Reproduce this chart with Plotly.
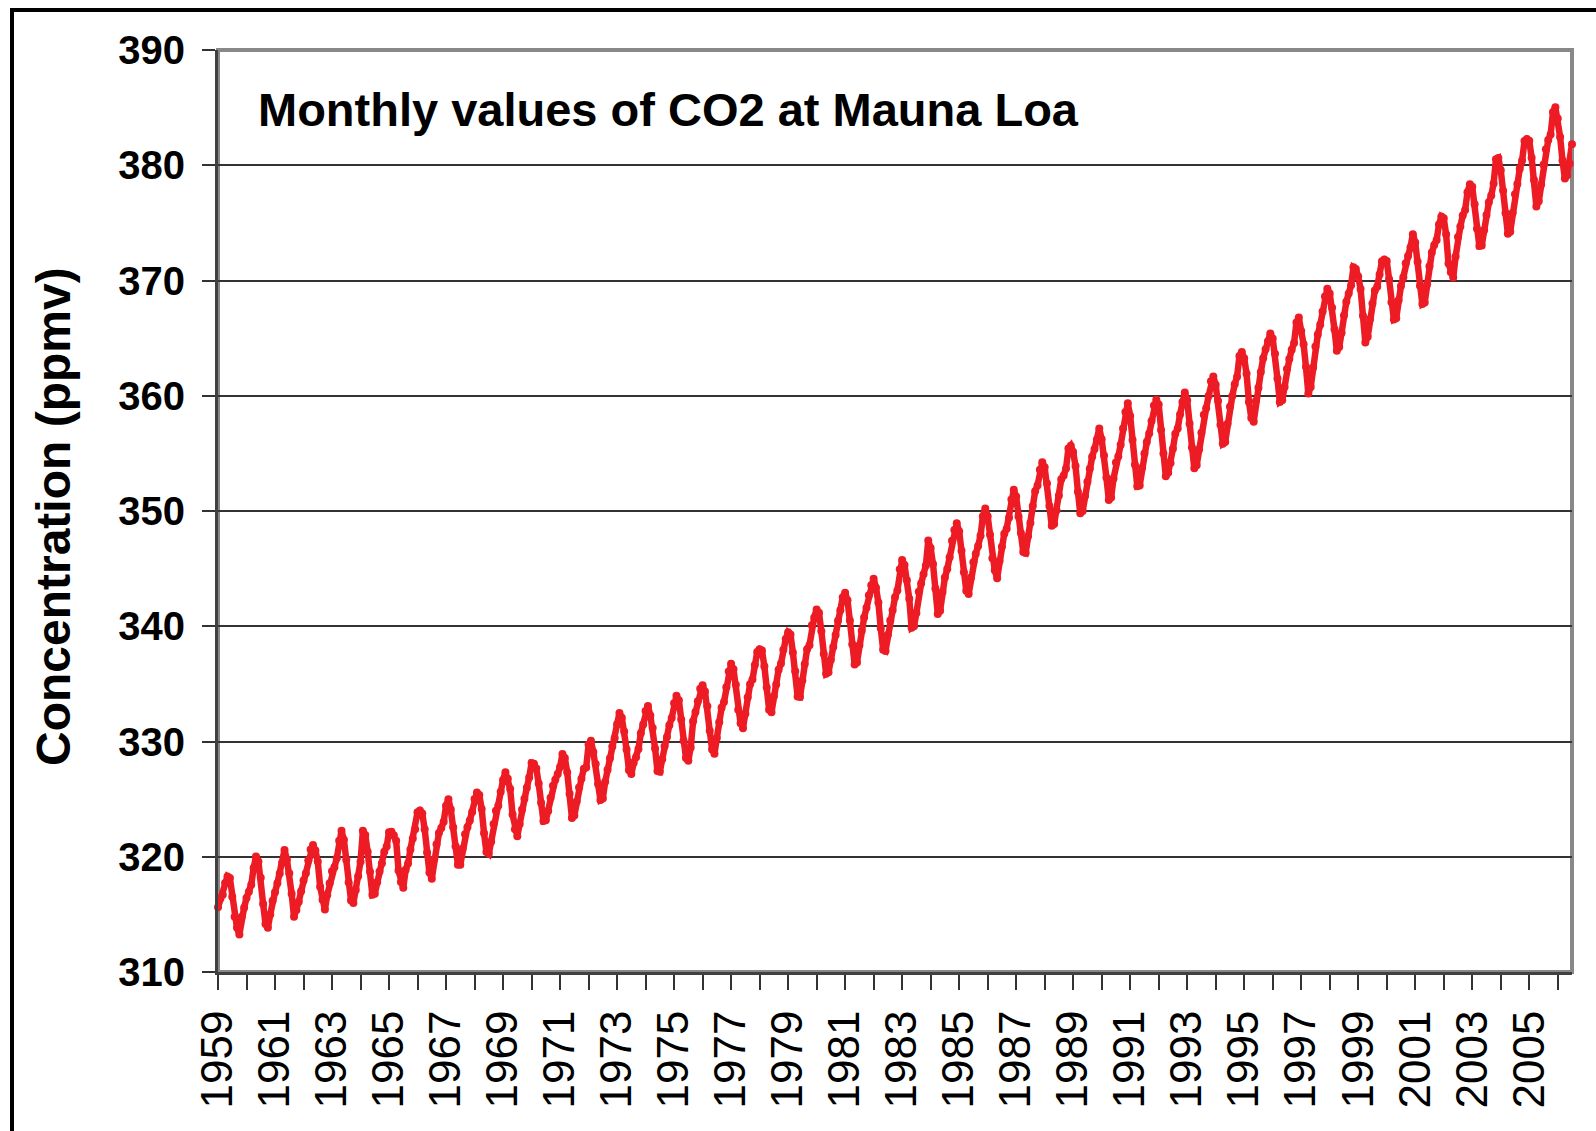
import plotly.graph_objects as go

# Monthly CO2 (ppmv) at Mauna Loa, Jan 1959 - Dec 2006 (missing months omitted)
co2_1959 = [315.62, 316.38, 316.71, 317.72, 318.29, 318.15, 316.54, 314.80, 313.84, 313.26, 314.80, 315.58]
co2_1960 = [316.43, 316.97, 317.58, 319.02, 320.03, 319.59, 318.18, 315.91, 314.16, 313.83, 315.00, 316.19]
co2_1961 = [316.93, 317.70, 318.54, 319.48, 320.58, 319.77, 318.57, 316.79, 314.80, 315.38, 316.10, 317.01]
co2_1962 = [317.94, 318.56, 319.68, 320.63, 321.01, 320.55, 319.58, 317.40, 316.26, 315.42, 316.69, 317.69]
co2_1963 = [318.74, 319.08, 319.86, 321.39, 322.25, 321.47, 319.74, 317.77, 316.21, 315.99, 317.12, 318.31]
co2_1964 = [319.57, 322.25, 321.89, 320.44, 318.70, 316.70, 316.79, 317.79, 318.71]
co2_1965 = [319.44, 320.44, 320.89, 322.13, 322.16, 321.87, 321.39, 318.80, 317.81, 317.30, 318.87, 319.42]
co2_1966 = [320.62, 321.59, 322.39, 323.87, 324.01, 323.75, 322.39, 320.37, 318.64, 318.10, 319.79, 321.08]
co2_1967 = [322.07, 322.50, 323.04, 324.42, 325.00, 324.09, 322.55, 320.92, 319.31, 319.31, 320.72, 321.96]
co2_1968 = [322.57, 323.15, 323.89, 325.02, 325.57, 325.36, 324.14, 322.03, 320.41, 320.25, 321.31, 322.84]
co2_1969 = [324.00, 324.42, 325.64, 326.66, 327.34, 326.76, 325.88, 323.67, 322.38, 321.78, 322.85, 324.11]
co2_1970 = [325.03, 325.99, 326.87, 328.13, 328.07, 327.66, 326.35, 324.69, 323.10, 323.16, 323.98, 325.13]
co2_1971 = [326.17, 326.68, 327.18, 327.78, 328.92, 328.57, 327.34, 325.46, 323.36, 323.57, 324.80, 326.01]
co2_1972 = [326.77, 327.63, 327.75, 329.72, 330.07, 329.09, 328.05, 326.32, 324.93, 325.06, 326.50, 327.55]
co2_1973 = [328.54, 329.56, 330.30, 331.50, 332.48, 332.07, 330.87, 329.31, 327.51, 327.18, 328.16, 328.64]
co2_1974 = [329.35, 330.71, 331.48, 332.65, 333.09, 332.25, 331.18, 329.40, 327.44, 327.37, 328.46, 329.58]
co2_1975 = [330.40, 331.41, 332.04, 333.31, 333.96, 333.59, 331.91, 330.06, 328.56, 328.34, 329.49]
co2_1976 = [331.75, 332.56, 333.50, 334.58, 334.87, 334.34, 333.05, 330.94, 329.30, 328.94, 330.31, 331.68]
co2_1977 = [332.93, 333.42, 334.70, 336.07, 336.74, 336.27, 334.93, 332.75, 331.58, 331.16, 332.40, 333.85]
co2_1978 = [334.97, 335.39, 336.64, 337.76, 338.01, 337.89, 336.54, 334.68, 332.76, 332.54, 333.92, 334.95]
co2_1979 = [336.23, 336.76, 337.96, 338.89, 339.47, 339.29, 337.73, 336.09, 333.91, 333.86, 335.29, 336.73]
co2_1980 = [338.01, 338.36, 340.08, 340.77, 341.46, 341.17, 339.56, 337.60, 335.88, 336.01, 337.10, 338.21]
co2_1981 = [339.23, 340.47, 341.38, 342.51, 342.91, 342.25, 340.49, 338.43, 336.69, 336.85, 338.36, 339.61]
co2_1982 = [340.75, 341.61, 342.70, 343.56, 344.13, 343.35, 342.06, 339.82, 337.97, 337.86, 339.26, 340.49]
co2_1983 = [341.38, 342.52, 343.10, 344.94, 345.75, 345.32, 343.99, 342.39, 339.86, 339.99, 341.16, 342.99]
co2_1984 = [343.70, 344.51, 345.28, 347.43, 346.79, 345.40, 343.28, 341.07, 341.35, 342.98, 344.22]
co2_1985 = [344.97, 345.99, 347.42, 348.35, 348.93, 348.25, 346.56, 344.69, 343.09, 342.80, 344.24, 345.56]
co2_1986 = [346.29, 346.96, 347.86, 349.55, 350.21, 349.54, 347.94, 345.91, 344.86, 344.17, 345.66, 346.90]
co2_1987 = [348.02, 348.47, 349.42, 350.99, 351.84, 351.25, 349.52, 348.10, 346.44, 346.36, 347.81, 348.96]
co2_1988 = [350.43, 351.72, 352.22, 353.59, 354.22, 353.79, 352.39, 350.44, 348.72, 348.88, 350.07, 351.34]
co2_1989 = [352.76, 353.07, 353.68, 355.42, 355.67, 355.13, 353.90, 351.67, 349.80, 349.99, 351.30, 352.53]
co2_1990 = [353.66, 354.70, 355.39, 356.20, 357.16, 356.22, 354.82, 352.91, 350.96, 351.18, 352.83, 354.21]
co2_1991 = [354.72, 355.75, 357.16, 358.60, 359.34, 358.24, 356.17, 354.02, 352.15, 352.21, 353.75, 354.99]
co2_1992 = [355.98, 356.72, 357.81, 359.15, 359.66, 359.25, 357.03, 355.00, 353.01, 353.31, 354.16, 355.40]
co2_1993 = [356.70, 357.16, 358.38, 359.46, 360.28, 359.60, 357.57, 355.52, 353.70, 353.98, 355.33, 356.80]
co2_1994 = [358.36, 358.91, 359.97, 361.26, 361.68, 360.95, 359.55, 357.49, 355.84, 355.99, 357.58, 359.04]
co2_1995 = [359.97, 361.00, 361.64, 363.45, 363.79, 363.26, 361.90, 359.46, 358.06, 357.75, 359.56, 360.70]
co2_1996 = [362.05, 363.25, 364.03, 364.72, 365.41, 364.97, 363.65, 361.49, 359.46, 359.60, 360.76, 362.33]
co2_1997 = [363.18, 364.00, 364.57, 366.35, 366.79, 365.62, 364.47, 362.51, 360.19, 360.77, 362.43, 364.28]
co2_1998 = [365.32, 366.15, 367.31, 368.61, 369.29, 368.87, 367.64, 365.77, 363.90, 364.23, 365.46, 366.97]
co2_1999 = [368.15, 368.87, 369.59, 371.14, 371.00, 370.35, 369.27, 366.94, 364.63, 365.12, 366.67, 368.01]
co2_2000 = [369.14, 369.46, 370.52, 371.66, 371.82, 371.70, 370.12, 368.12, 366.62, 366.73, 368.29, 369.53]
co2_2001 = [370.28, 371.50, 372.12, 372.87, 374.02, 373.30, 371.62, 369.55, 367.96, 368.09, 369.68, 371.24]
co2_2002 = [372.44, 373.08, 373.52, 374.85, 375.55, 375.40, 374.02, 371.48, 370.71, 370.25, 372.08, 373.78]
co2_2003 = [374.68, 375.63, 376.11, 377.65, 378.35, 378.13, 376.62, 374.50, 373.00, 373.03, 374.35, 375.69]
co2_2004 = [376.79, 377.37, 378.41, 380.52, 380.63, 379.57, 377.79, 375.86, 374.06, 374.24, 375.86, 377.48]
co2_2005 = [378.37, 379.69, 380.41, 382.10, 382.28, 382.13, 380.66, 378.71, 376.42, 376.88, 378.32, 380.04]
co2_2006 = [381.38, 382.19, 382.67, 384.61, 385.03, 384.05, 382.46, 380.41, 378.85, 379.13, 380.15, 381.82]

years = list(range(1959, 2007))
yearly = [co2_1959, co2_1960, co2_1961, co2_1962, co2_1963, co2_1964, co2_1965, co2_1966,
          co2_1967, co2_1968, co2_1969, co2_1970, co2_1971, co2_1972, co2_1973, co2_1974,
          co2_1975, co2_1976, co2_1977, co2_1978, co2_1979, co2_1980, co2_1981, co2_1982,
          co2_1983, co2_1984, co2_1985, co2_1986, co2_1987, co2_1988, co2_1989, co2_1990,
          co2_1991, co2_1992, co2_1993, co2_1994, co2_1995, co2_1996, co2_1997, co2_1998,
          co2_1999, co2_2000, co2_2001, co2_2002, co2_2003, co2_2004, co2_2005, co2_2006]

y_ticks = [310, 320, 330, 340, 350, 360, 370, 380, 390]
title_text = "Monthly values of CO2 at Mauna Loa"
y_title = "Concentration (ppmv)"

values = []
point_year = []
for yr, vals in zip(years, yearly):
    values.extend(vals)
    point_year.extend([yr] * len(vals))
idx = list(range(len(values)))
n = len(values)

tickvals = list(range(0, n, 12))
ticktext = [str(point_year[i]) if (k % 2 == 0) else "" for k, i in enumerate(tickvals)]

FONT = "Liberation Sans, Arial, sans-serif"

fig = go.Figure()
fig.add_trace(go.Scatter(
    x=idx, y=values, mode="lines+markers",
    line=dict(color="#ED1C24", width=6.5),
    marker=dict(color="#ED1C24", size=8),
    cliponaxis=False, showlegend=False,
))

W, H = 1596, 1131
L, R, T, B = 218, 24, 50, 159
pw, ph = W - L - R, H - T - B

fig.update_layout(
    width=W, height=H,
    margin=dict(l=L, r=R, t=T, b=B, autoexpand=False),
    paper_bgcolor="white", plot_bgcolor="white",
    xaxis=dict(
        range=[0, n - 1], tickmode="array", tickvals=tickvals, ticktext=ticktext,
        tickangle=-90, ticks="outside", ticklen=15, tickwidth=2, tickcolor="#333333",
        showgrid=False, zeroline=False, showline=True, linecolor="#404040", linewidth=3,
        tickfont=dict(family=FONT, size=44, color="black"), ticklabelstandoff=3,
        automargin=False,
    ),
    yaxis=dict(
        range=[310, 390], tickmode="array", tickvals=y_ticks,
        ticks="outside", ticklen=13, tickwidth=2, tickcolor="#333333",
        showgrid=True, gridcolor="#333333", gridwidth=2, zeroline=False,
        showline=True, linecolor="#404040", linewidth=3,
        tickfont=dict(family=FONT, size=40, color="black", weight="bold"),
        ticklabelstandoff=9, automargin=False,
    ),
    shapes=[
        dict(type="rect", xref="paper", yref="paper", x0=0, x1=1, y0=0, y1=1,
             line=dict(color="#888888", width=4), layer="below"),
        dict(type="line", xref="paper", yref="paper",
             x0=(12 - L) / pw, x1=(12 - L) / pw, y0=(H - B - 8) / ph, y1=-1,
             line=dict(color="black", width=4)),
        dict(type="line", xref="paper", yref="paper",
             x0=(10 - L) / pw, x1=1.2, y0=(H - B - 10) / ph, y1=(H - B - 10) / ph,
             line=dict(color="black", width=4)),
    ],
    annotations=[
        dict(text=f"<b>{title_text}</b>", xref="paper", yref="paper",
             x=(256 - L) / pw, y=(H - B - 110) / ph, xanchor="left", yanchor="middle",
             showarrow=False, font=dict(family=FONT, size=47, color="black")),
        dict(text=f"<b>{y_title}</b>", xref="paper", yref="paper",
             x=(53 - L) / pw, y=(H - B - 517) / ph, xanchor="center", yanchor="middle",
             textangle=-90, showarrow=False,
             font=dict(family=FONT, size=48, color="black")),
    ],
)

fig.write_html(
    "out.html",
    config={"displayModeBar": False},
    post_script="document.body.style.margin='0';document.body.style.overflow='hidden';",
)
